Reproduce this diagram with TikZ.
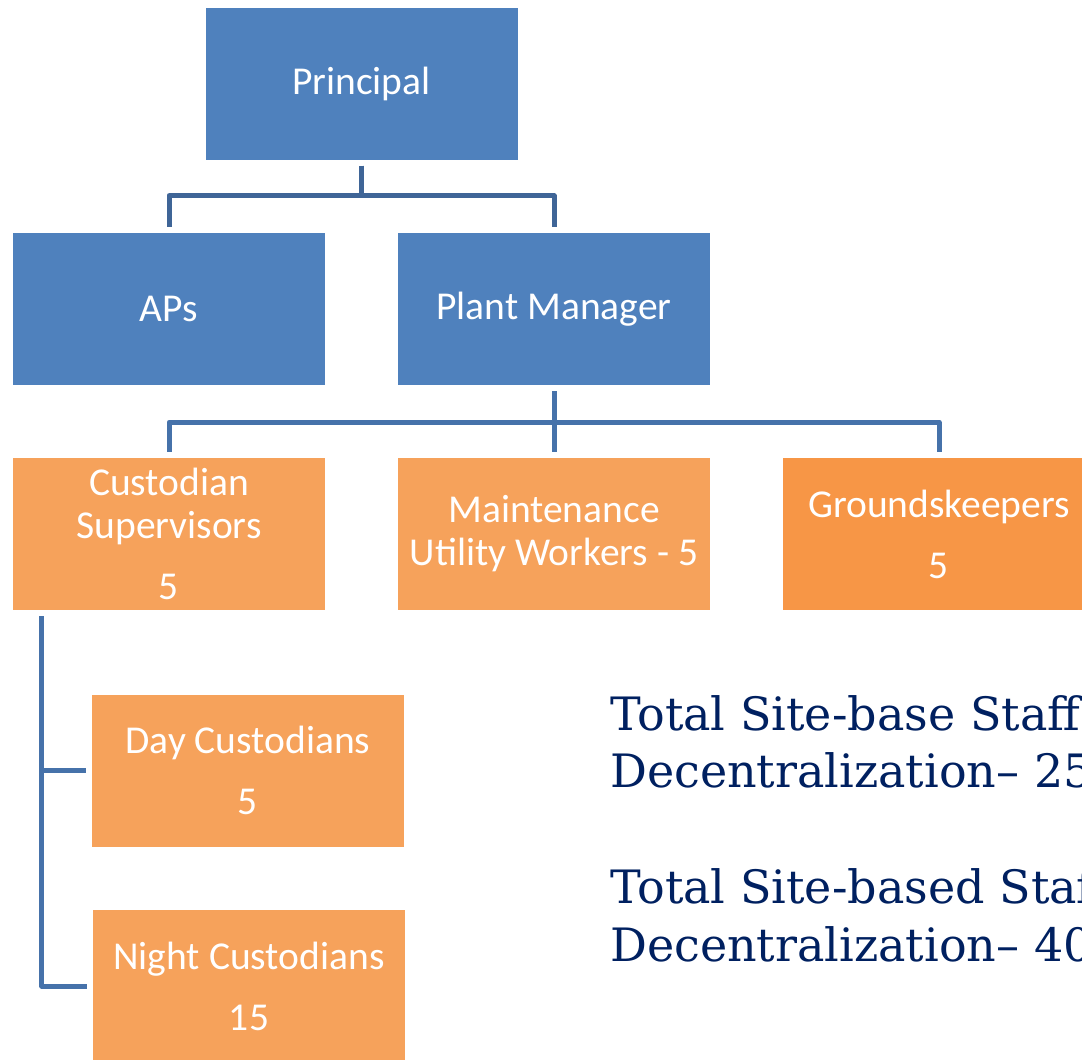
\documentclass[tikz,border=0pt]{standalone}
\usepackage{fontspec}
\newfontfamily\boxfont{Carlito}
\newfontfamily\notefont{DejaVu Serif}
\definecolor{boxblue}{HTML}{4F81BD}
\definecolor{boxorange}{HTML}{F6A25B}
\definecolor{boxorangedeep}{HTML}{F79646}
\definecolor{connblue}{HTML}{4672AA}
\definecolor{connbluedark}{HTML}{3F6597}
\definecolor{notenavy}{HTML}{002060}
\begin{document}
\begin{tikzpicture}[x=1pt,y=-1pt,
  orgbox/.style={rectangle, minimum width=312pt, minimum height=152pt, inner sep=0pt,
    text=white, align=center, font=\boxfont\fontsize{39.5}{43}\selectfont},
  bluebox/.style={orgbox, fill=boxblue},
  orangebox/.style={orgbox, fill=boxorange},
  deepbox/.style={orgbox, fill=boxorangedeep},
  conn/.style={draw=connblue, line width=5pt, line join=round, shorten <=6pt, shorten >=6pt},
  note/.style={anchor=base west, inner sep=0pt, text=notenavy, font=\notefont\fontsize{46}{57}\selectfont}]
\useasboundingbox (0,0) rectangle (1082,1060);
\clip (0,0) rectangle (1082,1060);

\node[bluebox] (principal) at (361.5,83.5) {Principal};
\node[bluebox] (aps) at (169,309) {APs};
\node[bluebox] (pm) at (554,309) {Plant Manager};

\node[orangebox] (cs) at (169,534) {Custodian\\Supervisors\\[18pt]5};
\node[orangebox] (muw) at (554,534) {Maintenance\\Utility Workers - 5};
\node[deepbox] (gk) at (939,534) {Groundskeepers\\[18pt]5};

\node[orangebox] (day) at (248,770.5) {Day Custodians\\[18pt]5};
\node[orangebox] (night) at (249,986) {Night Custodians\\[18pt]15};

\draw[conn, draw=connbluedark] (principal.south) -- ++(0,36) -| (aps.north);
\draw[conn, draw=connbluedark] (principal.south) -- ++(0,36) -| (pm.north);

\draw[conn] (pm.south) -- ++(0,37) -| (cs.north);
\draw[conn] (pm.south) -- ++(0,37) -| (muw.north);
\draw[conn] (pm.south) -- ++(0,37) -| (gk.north);

\coordinate (csdrop) at ([xshift=29pt]cs.south west);
\draw[conn] (csdrop) |- (day.west);
\draw[conn] (csdrop) |- (night.west);

\node[note] (t1) at (610,730) {Total Site-base Staff};
\node[note] (t2) at (610,787) {Decentralization– 25};
\node[note] (t3) at (610,903) {Total Site-based Staff};
\node[note] (t4) at (610,961) {Decentralization– 40};
\end{tikzpicture}
\end{document}
